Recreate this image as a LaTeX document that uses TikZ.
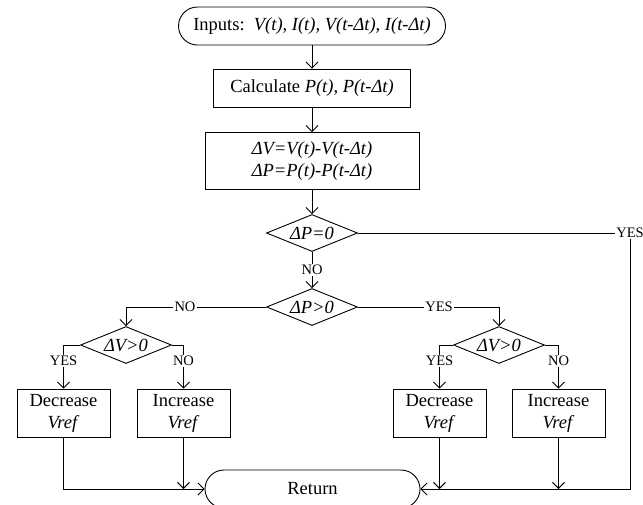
\documentclass[tikz,border=0pt]{standalone}
\usepackage{fontspec}
\setmainfont{Liberation Serif}
\usetikzlibrary{arrows.meta,shapes.geometric}
\begin{document}
\begin{tikzpicture}[x=1pt,y=-1pt,
  every node/.style={font=\fontsize{18.5}{22}\selectfont},
  ln/.style={line width=0.9pt},
  arr/.style={ln,-{Straight Barb[length=6pt,width=12pt,line width=0.9pt]}},
  box/.style={draw,ln,rectangle,inner sep=0pt,align=center},
  term/.style={draw,ln,rectangle,rounded corners=19pt,inner sep=0pt,minimum height=38pt},
  dec/.style={draw,ln,diamond,shape aspect=2.46,inner sep=0pt,minimum width=91pt,minimum height=37pt},
  lbl/.style={inner sep=1pt,font=\fontsize{14.5}{16}\selectfont}]
\useasboundingbox (0,0) rectangle (643,504);
\clip (0,0) rectangle (643,504);
\node[term,minimum width=267pt] (in) at (312,26) {Inputs:\ \ \textit{V(t), I(t), V(t-Δt), I(t-Δt)}};
\node[box,minimum width=197pt,minimum height=38pt] (calc) at (312,88) {Calculate \textit{P(t), P(t-Δt)}};
\node[box,minimum width=214pt,minimum height=57pt] (del) at (312,161) {\textit{ΔV=V(t)-V(t-Δt)}\\\textit{ΔP=P(t)-P(t-Δt)}};
\node[dec] (d1) at (312,233) {\textit{ΔP=0}};
\node[lbl] (no1) at (312,270) {NO};
\node[dec] (d2) at (312,307) {\textit{ΔP>0}};
\node[lbl] (no2) at (185,307) {NO};
\node[lbl] (yes2) at (439,307) {YES};
\node[lbl] (yes1) at (630,233) {YES};
\node[dec] (dl) at (126,345) {\textit{ΔV>0}};
\node[dec] (dr) at (499,345) {\textit{ΔV>0}};
\node[lbl] (yl) at (63.5,361) {YES};
\node[lbl] (nl) at (183.5,361) {NO};
\node[lbl] (yr) at (439.5,361) {YES};
\node[lbl] (nr) at (558.5,361) {NO};
\node[box,minimum width=93pt,minimum height=48pt] (b1) at (63.5,413) {Decrease\\\textit{Vref}};
\node[box,minimum width=93pt,minimum height=48pt] (b2) at (183.5,413) {Increase\\\textit{Vref}};
\node[box,minimum width=93pt,minimum height=48pt] (b3) at (439.5,413) {Decrease\\\textit{Vref}};
\node[box,minimum width=93pt,minimum height=48pt] (b4) at (558.5,413) {Increase\\\textit{Vref}};
\node[term,minimum width=215pt] (ret) at (312.5,489) {Return};
\draw[arr] (in) -- (calc);
\draw[arr] (calc) -- (del);
\draw[arr] (del) -- (d1);
\draw[ln] (d1) -- (no1);
\draw[arr] (no1) -- (d2);
\draw[ln] (d1.east) -- (yes1.west);
\draw[arr] (yes1.south) |- (ret.east);
\draw[ln] (d2.west) -- (no2.east);
\draw[arr] (no2.west) -| (dl.north);
\draw[ln] (d2.east) -- (yes2.west);
\draw[arr] (yes2.east) -| (dr.north);
\draw[ln] (dl.west) -| (yl.north);
\draw[arr] (yl.south) -- (b1.north);
\draw[ln] (dl.east) -| (nl.north);
\draw[arr] (nl.south) -- (b2.north);
\draw[ln] (dr.west) -| (yr.north);
\draw[arr] (yr.south) -- (b3.north);
\draw[ln] (dr.east) -| (nr.north);
\draw[arr] (nr.south) -- (b4.north);
\draw[arr] (b1.south) |- (ret.west);
\draw[arr] (b2.south) -- (b2.south |- ret.west);
\draw[arr] (b3.south) -- (b3.south |- ret.east);
\draw[arr] (b4.south) -- (b4.south |- ret.east);
\end{tikzpicture}
\end{document}
